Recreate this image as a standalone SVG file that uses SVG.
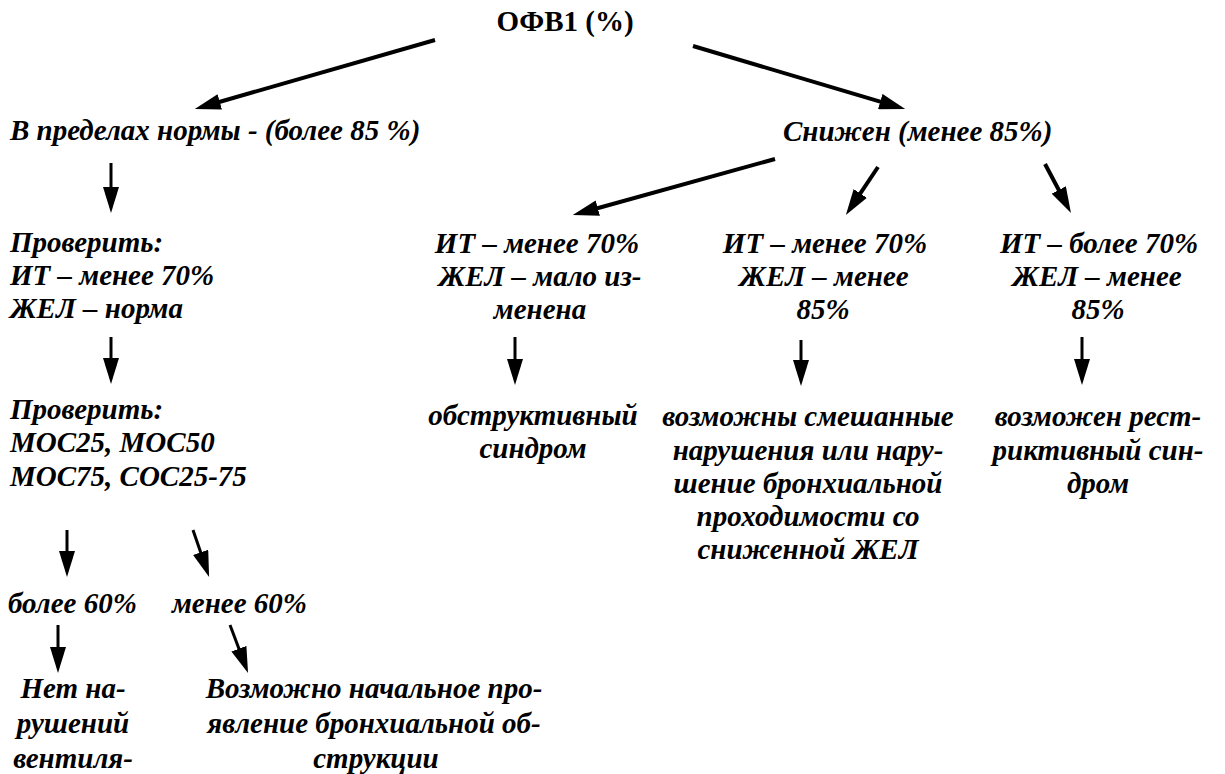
<svg xmlns="http://www.w3.org/2000/svg" width="1225" height="774" viewBox="0 0 1225 774">
<defs>
<marker id="ah" markerUnits="userSpaceOnUse" markerWidth="26" markerHeight="16" refX="6" refY="8" orient="auto">
<path d="M0,0 L26,8 L0,16 z" fill="#000"/>
</marker>
</defs>
<rect width="1225" height="774" fill="#fff"/>
<g id="connectors" stroke="#000" stroke-width="4" fill="none">
<line x1="435" y1="40" x2="214" y2="103.5" marker-end="url(#ah)"/>
<line x1="693" y1="46" x2="886" y2="103.3" marker-end="url(#ah)"/>
<line x1="111" y1="163" x2="111" y2="193" stroke-width="3" marker-end="url(#ah)"/>
<line x1="111" y1="337" x2="111" y2="364" stroke-width="3" marker-end="url(#ah)"/>
<line x1="775" y1="159" x2="592" y2="209.7" marker-end="url(#ah)"/>
<line x1="878" y1="167" x2="857" y2="198.4" marker-end="url(#ah)"/>
<line x1="1045" y1="164" x2="1061.6" y2="195.3" marker-end="url(#ah)"/>
<line x1="515" y1="337" x2="515" y2="365" stroke-width="3" marker-end="url(#ah)"/>
<line x1="801" y1="340" x2="801" y2="366" stroke-width="3" marker-end="url(#ah)"/>
<line x1="1082" y1="337" x2="1082" y2="365" stroke-width="3" marker-end="url(#ah)"/>
<line x1="67" y1="530" x2="67" y2="557" stroke-width="3" marker-end="url(#ah)"/>
<line x1="193" y1="530" x2="202.6" y2="558" stroke-width="3" marker-end="url(#ah)"/>
<line x1="58" y1="625" x2="58" y2="653" stroke-width="3" marker-end="url(#ah)"/>
<line x1="230" y1="625" x2="241" y2="654.3" stroke-width="3" marker-end="url(#ah)"/>
</g>
<g id="root" font-size="29" font-weight="bold"><text x="565" y="31" font-family="Liberation Serif" text-anchor="middle">ОФВ1 (%)</text></g>
<g id="normal" font-size="29" font-weight="bold" font-style="italic"><text x="10" y="140" font-family="Liberation Serif">В пределах нормы - (более 85 %)</text></g>
<g id="reduced" font-size="29" font-weight="bold" font-style="italic"><text x="783" y="141" font-family="Liberation Serif">Снижен (менее 85%)</text></g>
<g id="check1" font-size="29" font-weight="bold" font-style="italic">
<text x="10" y="252" font-family="Liberation Serif">Проверить:</text>
<text x="10" y="285" font-family="Liberation Serif">ИТ – менее 70%</text>
<text x="10" y="318" font-family="Liberation Serif">ЖЕЛ – норма</text>
</g>
<g id="check2" font-size="29" font-weight="bold" font-style="italic">
<text x="10" y="419" font-family="Liberation Serif">Проверить:</text>
<text x="10" y="452" font-family="Liberation Serif">МОС25, МОС50</text>
<text x="10" y="486" font-family="Liberation Serif">МОС75, СОС25-75</text>
</g>
<g id="more60" font-size="29" font-weight="bold" font-style="italic"><text x="8" y="613" font-family="Liberation Serif">более 60%</text></g>
<g id="less60" font-size="29" font-weight="bold" font-style="italic"><text x="172" y="613" font-family="Liberation Serif">менее 60%</text></g>
<g id="nodisorder" font-size="29" font-weight="bold" font-style="italic" text-anchor="middle">
<text x="73" y="698" font-family="Liberation Serif">Нет на-</text>
<text x="73" y="733" font-family="Liberation Serif">рушений</text>
<text x="73" y="768" font-family="Liberation Serif">вентиля-</text>
</g>
<g id="initial" font-size="29" font-weight="bold" font-style="italic" text-anchor="middle">
<text x="374" y="698" font-family="Liberation Serif">Возможно начальное про-</text>
<text x="374" y="733" font-family="Liberation Serif">явление бронхиальной об-</text>
<text x="376" y="768" font-family="Liberation Serif">струкции</text>
</g>
<g id="c1" font-size="29" font-weight="bold" font-style="italic" text-anchor="middle">
<text x="537" y="253" font-family="Liberation Serif">ИТ – менее 70%</text>
<text x="540" y="286" font-family="Liberation Serif">ЖЕЛ – мало из-</text>
<text x="540" y="319" font-family="Liberation Serif">менена</text>
</g>
<g id="c2" font-size="29" font-weight="bold" font-style="italic" text-anchor="middle">
<text x="825" y="253" font-family="Liberation Serif">ИТ – менее 70%</text>
<text x="824" y="286" font-family="Liberation Serif">ЖЕЛ – менее</text>
<text x="823" y="319" font-family="Liberation Serif">85%</text>
</g>
<g id="c3" font-size="29" font-weight="bold" font-style="italic" text-anchor="middle">
<text x="1099" y="253" font-family="Liberation Serif">ИТ – более 70%</text>
<text x="1097" y="286" font-family="Liberation Serif">ЖЕЛ – менее</text>
<text x="1098" y="319" font-family="Liberation Serif">85%</text>
</g>
<g id="obstructive" font-size="29" font-weight="bold" font-style="italic" text-anchor="middle">
<text x="533" y="425" font-family="Liberation Serif">обструктивный</text>
<text x="533" y="458" font-family="Liberation Serif">синдром</text>
</g>
<g id="mixed" font-size="29" font-weight="bold" font-style="italic" text-anchor="middle">
<text x="808" y="426" font-family="Liberation Serif">возможны смешанные</text>
<text x="808" y="460" font-family="Liberation Serif">нарушения или нару-</text>
<text x="808" y="493" font-family="Liberation Serif">шение бронхиальной</text>
<text x="808" y="526" font-family="Liberation Serif">проходимости со</text>
<text x="808" y="559" font-family="Liberation Serif">сниженной ЖЕЛ</text>
</g>
<g id="restrictive" font-size="29" font-weight="bold" font-style="italic" text-anchor="middle">
<text x="1098" y="426" font-family="Liberation Serif">возможен рест-</text>
<text x="1098" y="460" font-family="Liberation Serif">риктивный син-</text>
<text x="1098" y="493" font-family="Liberation Serif">дром</text>
</g>
</svg>
